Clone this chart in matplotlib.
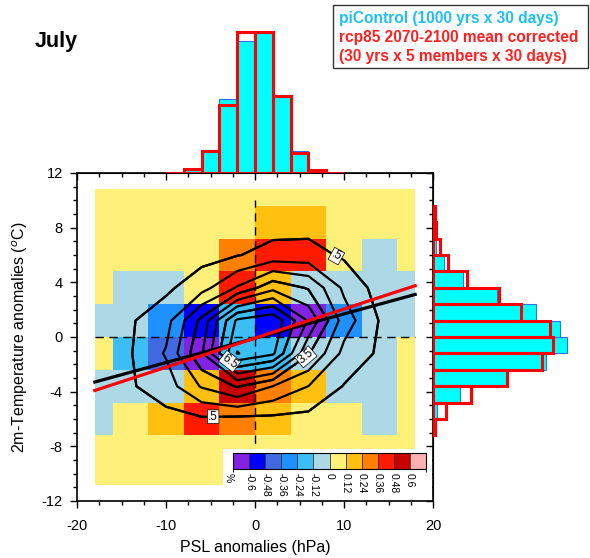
import numpy as np
import matplotlib
matplotlib.use("Agg")
import matplotlib.pyplot as plt  # noqa: E402
from matplotlib.colors import ListedColormap, BoundaryNorm  # noqa: E402
from matplotlib.cm import ScalarMappable  # noqa: E402
from matplotlib.patches import Rectangle  # noqa: E402

plt.rcParams["font.family"] = ["Liberation Sans", "DejaVu Sans"]

# joint histogram grid: cell centres (PSL hPa, T2m degC)
PSL_CENTRES = [-18, -14, -10, -6, -2, 2, 6, 10, 14, 18]
T2M_CENTRES = [-10.8, -8.4, -6.0, -3.6, -1.2, 1.2, 3.6, 6.0, 8.4, 10.8]

# rcp85 minus piControl frequency (%), rows from bottom (T=-10.8) to top
DIFF = [
    [0.06, 0.06, 0.06, 0.06, 0.06, 0.06, 0.06, 0.06, 0.06, 0.06],
    [0.06, 0.06, 0.06, 0.06, 0.06, 0.06, 0.06, 0.06, 0.06, 0.06],
    [-0.06, 0.06, 0.18, 0.42, 0.30, 0.18, 0.06, 0.06, -0.06, 0.06],
    [-0.06, -0.06, -0.06, 0.18, 0.54, 0.30, 0.18, -0.06, -0.06, 0.06],
    [0.06, -0.18, -0.42, -0.65, -0.18, -0.18, -0.06, -0.06, -0.06, 0.06],
    [-0.06, -0.06, -0.30, -0.54, -0.18, -0.54, -0.65, -0.30, -0.06, -0.06],
    [0.06, -0.06, -0.06, 0.06, 0.42, 0.18, -0.06, -0.06, -0.06, -0.06],
    [0.06, 0.06, 0.06, 0.06, 0.30, 0.42, 0.42, 0.06, -0.06, 0.06],
    [0.06, 0.06, 0.06, 0.06, 0.06, 0.18, 0.18, 0.06, 0.06, 0.06],
    [0.06, 0.06, 0.06, 0.06, 0.06, 0.06, 0.06, 0.06, 0.06, 0.06],
]

# piControl joint frequency (%), same grid, rows from bottom to top
PI_FREQ = [
    [0.01, 0.01, 0.02, 0.02, 0.03, 0.02, 0.02, 0.01, 0.01, 0.01],
    [0.02, 0.04, 0.08, 0.10, 0.10, 0.08, 0.05, 0.03, 0.02, 0.01],
    [0.05, 0.15, 0.20, 0.35, 0.25, 0.25, 0.20, 0.08, 0.03, 0.01],
    [0.10, 0.40, 1.00, 2.60, 3.60, 2.50, 1.50, 0.45, 0.10, 0.03],
    [0.15, 0.44, 1.60, 4.40, 8.55, 7.70, 3.60, 1.20, 0.35, 0.05],
    [0.10, 0.40, 1.10, 3.80, 7.70, 8.30, 5.40, 2.00, 0.45, 0.10],
    [0.02, 0.05, 0.30, 1.10, 2.60, 4.20, 3.40, 1.30, 0.10, 0.03],
    [0.01, 0.02, 0.05, 0.15, 0.45, 0.85, 0.90, 0.35, 0.10, 0.02],
    [0.01, 0.01, 0.02, 0.03, 0.06, 0.08, 0.09, 0.05, 0.02, 0.01],
    [0.01, 0.01, 0.01, 0.01, 0.01, 0.01, 0.01, 0.01, 0.01, 0.01],
]
CONTOUR_LEVELS = [0.5, 1.5, 2.5, 3.5, 4.5, 5.5, 6.5, 7.5, 8.5]
LABELLED_LEVELS = [0.5, 3.5, 6.5]

# regression T2m on PSL: (slope, intercept)
PI_FIT = (0.178, -0.09)
RCP_FIT = (0.213, -0.08)

# colour bar
DIFF_LEVELS = [-0.6, -0.48, -0.36, -0.24, -0.12, 0, 0.12, 0.24, 0.36, 0.48, 0.6]
DIFF_LABELS = ["-0.6", "-0.48", "-0.36", "-0.24", "-0.12", "0",
               "0.12", "0.24", "0.36", "0.48", "0.6"]
DIFF_COLORS = ["#8222E2", "#0000FF", "#4169E1", "#1E90FF", "#3CBEF5", "#ADD8E6",
               "#FFF07A", "#FFC010", "#FF8000", "#FF1A00", "#C80000", "#FFB0B0"]

# marginal histograms (% of days)
PSL_EDGES = [-10, -8, -6, -4, -2, 0, 2, 4, 6, 8, 10]
PSL_PI = [0.05, 0.45, 2.3, 7.45, 13.2, 14.0, 7.7, 2.25, 0.3, 0.05]
PSL_RCP = [0.05, 0.45, 2.2, 6.85, 14.15, 14.15, 7.7, 2.05, 0.3, 0.05]

T2M_EDGES = [-7.2, -6.0, -4.8, -3.6, -2.4, -1.2, 0.0, 1.2, 2.4, 3.6, 4.8, 6.0,
             7.2, 8.4, 9.6]
T2M_PI = [0.1, 0.4, 2.7, 7.3, 11.3, 13.4, 12.7, 10.3, 6.4, 3.0, 1.1, 0.3, 0.05, 0.0]
T2M_RCP = [0.15, 1.25, 3.75, 7.4, 10.9, 12.0, 11.7, 8.75, 6.55, 3.4, 1.5, 0.7,
           0.25, 0.15]

W, H = 590, 558
fig = plt.figure(figsize=(W / 100, H / 100), dpi=100)


def box(x0, y0, x1, y1):
    """pixel box (top-left origin) -> figure rect"""
    return [x0 / W, 1 - y1 / H, (x1 - x0) / W, (y1 - y0) / H]


ax = fig.add_axes(box(77, 173, 433, 501))

xc = np.array(PSL_CENTRES, dtype=float)
yc = np.array(T2M_CENTRES, dtype=float)
xe = np.concatenate([[xc[0]], (xc[:-1] + xc[1:]) / 2, [xc[-1]]])
ye = np.concatenate([[yc[0]], (yc[:-1] + yc[1:]) / 2, [yc[-1]]])

cmap = ListedColormap(DIFF_COLORS)
bounds = [DIFF_LEVELS[0] - 0.12] + DIFF_LEVELS + [DIFF_LEVELS[-1] + 0.12]
norm = BoundaryNorm(bounds, cmap.N)
ax.pcolormesh(xe, ye, np.array(DIFF), cmap=cmap, norm=norm, zorder=1)

freq = np.array(PI_FREQ)
ax.contour(xc, yc, freq, levels=CONTOUR_LEVELS, colors="black",
           linewidths=1.6, zorder=3)
# labelled subset drawn again on top so clabel only sees these levels
cs_lab = ax.contour(xc, yc, freq, levels=LABELLED_LEVELS, colors="black",
                    linewidths=1.6, zorder=3)
labels = cs_lab.clabel(inline=True, fontsize=8.5,
                       fmt=lambda v: f"{v:g}".lstrip("0"),
                       manual=[(8.8, 5.5), (-4.7, -6.0), (6.2, -1.9), (-3.2, -2.1)])
for t in labels:
    t.set_bbox(dict(facecolor="white", edgecolor="black", linewidth=0.5, pad=0.6))

ax.plot([xc[0], xc[-1]], [0, 0], color="black", lw=1.0, ls=(0, (6, 4)), zorder=2)
ax.plot([0, 0], [yc[0], yc[-1] - 0.8], color="black", lw=1.0, ls=(0, (6, 4)), zorder=2)

fit_x = np.array([xc[0], xc[-1]])
ax.plot(fit_x, PI_FIT[0] * fit_x + PI_FIT[1], color="black", lw=2.3, zorder=4)
ax.plot(fit_x, RCP_FIT[0] * fit_x + RCP_FIT[1], color="#FF0000", lw=2.3, zorder=4)

ax.set_xlim(-20, 20)
ax.set_ylim(-12, 12)
ax.set_xticks([-20, -10, 0, 10, 20])
ax.set_xticks(np.arange(-20, 20.1, 2.5), minor=True)
ax.set_yticks(np.arange(-12, 12.1, 4))
ax.set_yticks(np.arange(-12, 12.1, 1), minor=True)
ax.set_xticklabels(["-20", "-10", "0", "10", "20"])
ax.set_yticklabels(["-12", "-8", "-4", "0", "4", "8", "12"])
ax.tick_params(which="both", direction="out", labelsize=10.5, width=1.0)
ax.tick_params(which="major", length=5.3)
ax.tick_params(which="minor", length=3)
ax.tick_params(axis="x", which="major", pad=8)
ax.tick_params(axis="y", which="major", pad=5)
for sp in ax.spines.values():
    sp.set_linewidth(1.2)
ax.set_xlabel("PSL anomalies (hPa)", fontsize=11.5, labelpad=4.5)
ax.set_ylabel("2m-Temperature anomalies ($^{o}$C)", fontsize=11.5, labelpad=8)

top = ax.secondary_xaxis("top")
top.set_xticks([-20, -10, 0, 10, 20])
top.set_xticks(np.arange(-20, 20.1, 2.5), minor=True)
top.tick_params(which="both", direction="in", labeltop=False, width=1.0)
top.tick_params(which="major", length=5.3)
top.tick_params(which="minor", length=3)
right = ax.secondary_yaxis("right")
right.set_yticks(np.arange(-12, 12.1, 4))
right.set_yticks(np.arange(-12, 12.1, 1), minor=True)
right.tick_params(which="both", direction="in", labelright=False, width=1.0)
right.tick_params(which="major", length=5.3)
right.tick_params(which="minor", length=3)

# white panel behind the colour bar
bg = fig.add_axes(box(223, 449, 432, 500))
bg.set_xticks([])
bg.set_yticks([])
for sp in bg.spines.values():
    sp.set_visible(False)
bg.set_facecolor("white")

cax = fig.add_axes(box(233, 453, 426, 469))
cb = fig.colorbar(ScalarMappable(norm=norm, cmap=cmap), cax=cax,
                  orientation="horizontal", ticks=DIFF_LEVELS, spacing="uniform")
cb.outline.set_linewidth(0.8)
for b in DIFF_LEVELS:
    cax.axvline(b, color="#333333", lw=0.6)
cax.set_xticklabels(DIFF_LABELS, rotation=270, fontsize=7.5)
cax.tick_params(length=0, pad=3)
cax.text(-0.025, -0.25, "%", transform=cax.transAxes, rotation=270,
         ha="center", va="top", fontsize=7.5)

# top marginal histogram (PSL)
hx = fig.add_axes(box(77, 23, 433, 173))
pe = np.array(PSL_EDGES, dtype=float)
hx.bar(pe[:-1], PSL_PI, width=np.diff(pe), align="edge", color="#00FFFF",
       edgecolor="#3070FF", linewidth=0.8)
hx.bar(pe[:-1], PSL_RCP, width=np.diff(pe), align="edge", fill=False,
       edgecolor="#FF0000", linewidth=2.2)
hx.set_xlim(-20, 20)
hx.set_ylim(0, 15.0)
hx.axis("off")

# right marginal histogram (T2m)
hy = fig.add_axes(box(433, 173, 590, 501))
te = np.array(T2M_EDGES, dtype=float)
hy.barh(te[:-1], T2M_PI, height=np.diff(te), align="edge", color="#00FFFF",
        edgecolor="#3070FF", linewidth=0.8)
hy.barh(te[:-1], T2M_RCP, height=np.diff(te), align="edge", fill=False,
        edgecolor="#FF0000", linewidth=2.2)
hy.set_ylim(-12, 12)
hy.set_xlim(0, 15.7)
hy.axis("off")

fig.text(35 / W, 1 - 42 / H, "July", fontsize=15.5, fontweight="bold", va="center")

fig.add_artist(Rectangle((333 / W, 1 - 68 / H), 255 / W, 63 / H,
                         transform=fig.transFigure, facecolor="white",
                         edgecolor="#333333", linewidth=1.0))
legend_lines = [("piControl (1000 yrs x 30 days)", "#1EC0F5"),
                ("rcp85 2070-2100 mean corrected", "#FF2020"),
                ("(30 yrs x 5 members x 30 days)", "#FF2020")]
for i, (txt, col) in enumerate(legend_lines):
    fig.text(339 / W, 1 - (18 + 19.5 * i) / H, txt, color=col, fontsize=11.2,
             fontweight="bold", va="center")

fig.savefig("out.png", dpi=100)
